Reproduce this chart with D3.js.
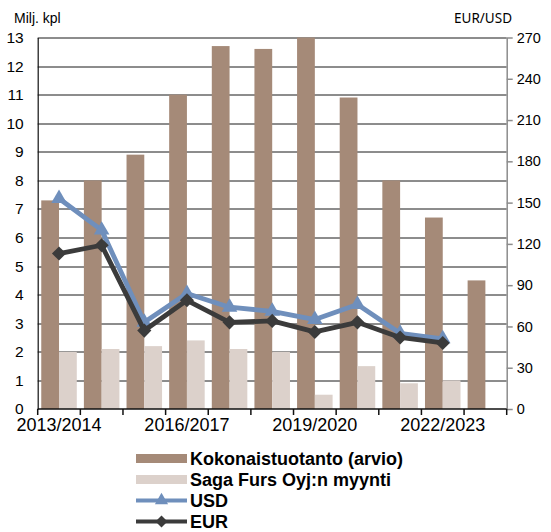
<!DOCTYPE html>
<html>
<head>
<meta charset="utf-8">
<script src="https://cdn.jsdelivr.net/npm/d3@7"></script>
<style>
  body { margin: 0; background: #fff; }
  svg text { font-family: "Liberation Sans", Arial, sans-serif; }
</style>
</head>
<body>
<div id="chart"></div>
<script>
// Seasons and values
const seasons = ["2013/2014", "2014/2015", "2015/2016", "2016/2017", "2017/2018", "2018/2019",
  "2019/2020", "2020/2021", "2021/2022", "2022/2023", "2023/2024"];
const labelled = ["2013/2014", "2016/2017", "2019/2020", "2022/2023"];
const kokonais = [7.3, 8.0, 8.9, 11.0, 12.7, 12.6, 13.0, 10.9, 8.0, 6.7, 4.5];
const saga = [2.0, 2.1, 2.2, 2.4, 2.1, 2.0, 0.5, 1.5, 0.9, 1.0, null];
const usd = [153, 130, 63, 84, 74, 71, 65, 76, 55, 51, null];
const eur = [113, 119, 57, 79, 63, 64, 56, 63, 52, 48, null];
const leftTicks = d3.range(0, 14, 1);
const rightTicks = d3.range(0, 271, 30);

const width = 551, height = 532;
const margins = { top: 37.5, right: 44.3, bottom: 123, left: 37.7 };
const innerWidth = width - margins.left - margins.right;
const innerHeight = height - margins.top - margins.bottom;

const colors = { koko: "#a58a78", saga: "#dcd1cb", usd: "#6f8fbc", eur: "#3b3b3b" };

const svg = d3.select("#chart").append("svg")
    .attr("width", width)
    .attr("height", height);

const g = svg.append("g")
    .attr("transform", `translate(${margins.left}, ${margins.top})`);

const x = d3.scaleBand()
    .domain(seasons)
    .range([0, innerWidth]);
const x1 = d3.scaleBand()
    .domain(["koko", "saga"])
    .range([0, x.bandwidth()])
    .paddingOuter(0.2);
const yL = d3.scaleLinear()
    .domain([0, 13])
    .range([innerHeight, 0]);
const yR = d3.scaleLinear()
    .domain([0, 270])
    .range([innerHeight, 0]);

// gridlines
g.append("g")
    .attr("class", "grid")
  .selectAll("line")
  .data(leftTicks.filter(d => d > 0))
  .enter().append("line")
    .attr("x1", 0)
    .attr("x2", innerWidth)
    .attr("y1", d => Math.round(yL(d)) + 0.5)
    .attr("y2", d => Math.round(yL(d)) + 0.5)
    .attr("stroke", "#1a1a1a")
    .attr("stroke-width", 1);

// bars
const rows = seasons.map((s, i) => ({ season: s, koko: kokonais[i], saga: saga[i] }));

g.append("g").selectAll("rect.koko")
  .data(rows)
  .enter().append("rect")
    .attr("class", "koko")
    .attr("x", d => x(d.season) + x1("koko"))
    .attr("width", x1.bandwidth())
    .attr("y", d => yL(d.koko))
    .attr("height", d => innerHeight - yL(d.koko))
    .attr("fill", colors.koko);

g.append("g").selectAll("rect.saga")
  .data(rows.filter(d => d.saga !== null))
  .enter().append("rect")
    .attr("class", "saga")
    .attr("x", d => x(d.season) + x1("saga"))
    .attr("width", x1.bandwidth())
    .attr("y", d => yL(d.saga))
    .attr("height", d => innerHeight - yL(d.saga))
    .attr("fill", colors.saga);

// axes
const yAxisL = d3.axisLeft(yL)
    .tickValues(leftTicks)
    .tickSize(0)
    .tickPadding(14);
const yAxisLG = g.append("g").call(yAxisL);
yAxisLG.select(".domain").attr("stroke", "#111").attr("stroke-width", 1.2);
yAxisLG.selectAll("text").attr("font-size", 15.5).attr("fill", "#000");

const yAxisR = d3.axisRight(yR)
    .tickValues(rightTicks)
    .tickSize(6)
    .tickSizeOuter(0)
    .tickPadding(4);
const yAxisRG = g.append("g")
    .attr("transform", `translate(${innerWidth}, 0)`)
    .call(yAxisR);
yAxisRG.select(".domain").attr("stroke", "#8c8c8c").attr("stroke-width", 1.5);
yAxisRG.selectAll(".tick line").attr("stroke", "#8c8c8c").attr("stroke-width", 1.5);
yAxisRG.selectAll("text").attr("font-size", 14.5).attr("fill", "#000");

const xAxisG = g.append("g")
    .attr("transform", `translate(0, ${innerHeight})`);
xAxisG.append("line")
    .attr("x1", 0).attr("x2", innerWidth)
    .attr("stroke", "#111").attr("stroke-width", 1.5);
xAxisG.selectAll("line.tick")
  .data(d3.range(seasons.length + 1))
  .enter().append("line")
    .attr("class", "tick")
    .attr("x1", i => i * x.step())
    .attr("x2", i => i * x.step())
    .attr("y1", 0).attr("y2", 6)
    .attr("stroke", "#111").attr("stroke-width", 1.5);
xAxisG.selectAll("text")
  .data(labelled)
  .enter().append("text")
    .attr("x", d => x(d) + x.bandwidth() / 2)
    .attr("y", 21.5)
    .attr("text-anchor", "middle")
    .attr("font-size", 18)
    .text(d => d);

// lines
const cx = (i) => x(seasons[i]) + x.bandwidth() / 2;
const line = d3.line()
    .defined(d => d !== null)
    .x((d, i) => cx(i))
    .y(d => yR(d));

const tri = d3.symbol().type(d3.symbolTriangle).size(105);
const dia = d3.symbol().type(d3.symbolSquare).size(100);

g.append("path")
    .datum(usd)
    .attr("fill", "none")
    .attr("stroke", colors.usd)
    .attr("stroke-width", 4.8)
    .attr("stroke-linejoin", "round")
    .attr("d", line);
g.append("g").selectAll("path")
  .data(usd.map((v, i) => ({ v, i })).filter(d => d.v !== null))
  .enter().append("path")
    .attr("transform", d => `translate(${cx(d.i)}, ${yR(d.v)})`)
    .attr("d", tri)
    .attr("fill", colors.usd);

g.append("path")
    .datum(eur)
    .attr("fill", "none")
    .attr("stroke", colors.eur)
    .attr("stroke-width", 4.8)
    .attr("stroke-linejoin", "round")
    .attr("d", line);
g.append("g").selectAll("path")
  .data(eur.map((v, i) => ({ v, i })).filter(d => d.v !== null))
  .enter().append("path")
    .attr("transform", d => `translate(${cx(d.i)}, ${yR(d.v)}) rotate(45)`)
    .attr("d", dia)
    .attr("fill", colors.eur);

// axis titles
svg.append("text")
    .attr("x", 14).attr("y", 23)
    .attr("font-size", 14)
    .text("Milj. kpl");
svg.append("text")
    .attr("x", 512).attr("y", 23)
    .attr("text-anchor", "end")
    .attr("font-size", 13.5)
    .style("font-family", "'Noto Sans', sans-serif")
    .text("EUR/USD");

// legend
const legendItems = [
  { name: "Kokonaistuotanto (arvio)", kind: "bar", color: colors.koko },
  { name: "Saga Furs Oyj:n myynti", kind: "bar", color: colors.saga },
  { name: "USD", kind: "line", color: colors.usd, symbol: tri, rot: 0 },
  { name: "EUR", kind: "line", color: colors.eur, symbol: dia, rot: 45 }
];
const legend = svg.append("g")
    .attr("transform", "translate(136, 458.5)");
const item = legend.selectAll("g")
  .data(legendItems)
  .enter().append("g")
    .attr("transform", (d, i) => `translate(0, ${i * 21})`);
item.filter(d => d.kind === "bar").append("rect")
    .attr("x", 0).attr("y", -4.5)
    .attr("width", 51).attr("height", 9)
    .attr("fill", d => d.color);
item.filter(d => d.kind === "line").append("line")
    .attr("x1", 0).attr("x2", 51)
    .attr("stroke", d => d.color)
    .attr("stroke-width", 4);
item.filter(d => d.kind === "line").append("path")
    .attr("transform", d => `translate(25.5, 0) rotate(${d.rot}) scale(0.85)`)
    .attr("d", d => d.symbol())
    .attr("fill", d => d.color);
item.append("text")
    .attr("x", 54)
    .attr("y", 6.5)
    .attr("font-size", 18)
    .attr("font-weight", "bold")
    .text(d => d.name);
</script>
</body>
</html>
